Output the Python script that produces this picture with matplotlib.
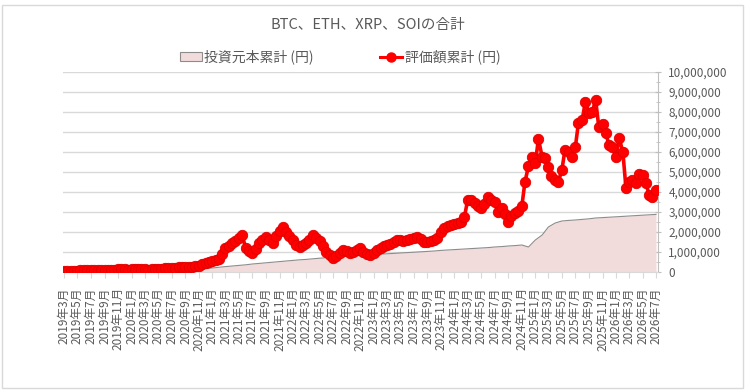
import numpy as np
import pandas as pd
import matplotlib
matplotlib.use("Agg")
import matplotlib.pyplot as plt
import matplotlib.dates as mdates
from matplotlib.ticker import FuncFormatter, MultipleLocator
from matplotlib.patches import Rectangle

plt.rcParams['font.family'] = ['Noto Sans CJK JP', 'DejaVu Sans']

# タイトル・凡例
titulo = "BTC、ETH、XRP、SOIの合計"
nombre_inversion = "投資元本累計 (円)"
nombre_valor = "評価額累計 (円)"

# 評価額累計 (百万円), 半月ごと 2019-03 .. 2026-07
valor_m = [
    0.03, 0.04, 0.05, 0.06, 0.07, 0.08, 0.09, 0.09, 0.10, 0.10,
    0.10, 0.10, 0.11, 0.11, 0.12, 0.12, 0.13, 0.15, 0.13, 0.12,
    0.13, 0.14, 0.16, 0.17, 0.13, 0.12, 0.14, 0.15, 0.16, 0.17,
    0.18, 0.20, 0.22, 0.21, 0.24, 0.25, 0.25, 0.26, 0.26, 0.28,
    0.30, 0.38, 0.45, 0.50, 0.55, 0.60, 0.65, 0.90, 1.20, 1.30,
    1.45, 1.55, 1.70, 1.85, 1.20, 1.05, 0.95, 1.15, 1.45, 1.60,
    1.75, 1.60, 1.45, 1.80, 2.05, 2.25, 2.00, 1.80, 1.60, 1.35,
    1.25, 1.35, 1.45, 1.60, 1.85, 1.70, 1.55, 1.30, 1.00, 0.85,
    0.70, 0.80, 0.95, 1.10, 1.05, 0.95, 1.00, 1.10, 1.20, 1.00,
    0.90, 0.85, 0.95, 1.10, 1.20, 1.30, 1.35, 1.40, 1.50, 1.60,
    1.60, 1.55, 1.60, 1.65, 1.70, 1.75, 1.65, 1.50, 1.50, 1.55,
    1.60, 1.70, 2.00, 2.20, 2.30, 2.35, 2.40, 2.45, 2.50, 2.75,
    3.60, 3.60, 3.45, 3.30, 3.20, 3.40, 3.75, 3.60, 3.50, 3.00,
    3.20, 2.90, 2.50, 2.80, 2.95, 3.05, 3.30, 4.50, 5.30, 5.75,
    5.45, 6.65, 5.75, 5.70, 5.25, 4.80, 4.60, 4.50, 5.10, 6.10,
    6.00, 5.75, 6.25, 7.45, 7.60, 8.50, 7.95, 8.00, 8.60, 7.25,
    7.40, 6.95, 6.35, 6.25, 5.75, 6.70, 6.00, 4.20, 4.50, 4.60,
    4.45, 4.90, 4.85, 4.45, 3.85, 3.75, 4.10,
]

# 投資元本累計 (百万円), 月ごと 2019-03 .. 2026-07
inversion_m = [
    0.02, 0.025, 0.03, 0.035, 0.04, 0.045, 0.05, 0.055, 0.06, 0.065,
    0.07, 0.075, 0.08, 0.085, 0.09, 0.095, 0.10, 0.11, 0.12, 0.13,
    0.14, 0.17, 0.20, 0.24, 0.27, 0.30, 0.33, 0.36, 0.40, 0.43,
    0.46, 0.49, 0.52, 0.55, 0.58, 0.61, 0.63, 0.66, 0.69, 0.71,
    0.74, 0.76, 0.78, 0.80, 0.82, 0.84, 0.87, 0.89, 0.91, 0.93,
    0.95, 0.97, 0.99, 1.01, 1.03, 1.05, 1.08, 1.10, 1.12, 1.14,
    1.16, 1.18, 1.20, 1.22, 1.25, 1.27, 1.30, 1.32, 1.35, 1.25,
    1.60, 1.85, 2.25, 2.45, 2.55, 2.58, 2.60, 2.63, 2.66, 2.70,
    2.72, 2.74, 2.76, 2.78, 2.80, 2.82, 2.84, 2.86, 2.88,
]

fechas_valor = pd.date_range("2019-03-01", "2026-07-01", freq="SMS")
fechas_inv = pd.date_range("2019-03-01", "2026-07-01", freq="MS")

gris_texto = "#595959"
gris_linea = "#d9d9d9"

fig = plt.figure(figsize=(7.46, 3.92), dpi=100)
ax = fig.add_axes([63 / 746, 1 - 272 / 392, (658 - 63) / 746, 200 / 392])

# borde del gráfico
fig.patches.append(Rectangle((2 / 746, 4 / 392), 741 / 746, 383 / 392, transform=fig.transFigure,
                             fill=False, edgecolor=gris_linea, linewidth=1))

inv = np.array(inversion_m) * 1e6
val = np.array(valor_m) * 1e6

ax.fill_between(fechas_inv, inv, 0, color="#f2dcdb", linewidth=0, zorder=2)
ax.plot(fechas_inv, inv, color="#8c8c8c", linewidth=0.8, zorder=3)
ax.plot(fechas_valor, val, color="#ff0000", linewidth=2.6, marker="o", markersize=7.5,
        markeredgecolor="#e00000", markeredgewidth=0.6, zorder=4)

ax.set_xlim(pd.Timestamp("2019-02-25"), pd.Timestamp("2026-07-10"))
ax.set_ylim(0, 10_000_000)

ax.yaxis.tick_right()
ax.yaxis.set_major_locator(MultipleLocator(1_000_000))
ax.yaxis.set_minor_locator(MultipleLocator(500_000))
ax.yaxis.set_major_formatter(FuncFormatter(lambda v, p: f"{v:,.0f}"))
ax.grid(axis="y", which="major", color=gris_linea, linewidth=1, zorder=0)
ax.set_axisbelow(True)

ax.xaxis.set_major_locator(mdates.MonthLocator(bymonth=[1, 3, 5, 7, 9, 11]))
ax.xaxis.set_major_formatter(FuncFormatter(
    lambda v, p: f"{mdates.num2date(v).year}年{mdates.num2date(v).month}月"))

for lado in ["left", "top"]:
    ax.spines[lado].set_visible(False)
ax.spines["right"].set_color("#bfbfbf")
ax.spines["bottom"].set_color(gris_linea)

ax.tick_params(axis="y", which="major", direction="inout", length=5, color="#bfbfbf",
               labelsize=8.5, labelcolor=gris_texto, pad=5)
ax.tick_params(axis="y", which="minor", direction="inout", length=3, color="#bfbfbf")
ax.tick_params(axis="x", which="major", direction="out", length=4, color=gris_linea,
               labelsize=8.5, labelcolor=gris_texto, labelrotation=90, pad=7)

fig.text(368 / 746, 1 - 25 / 392, titulo, ha="center", va="center", fontsize=10.5, color=gris_texto)

h1 = plt.Rectangle((0, 0), 1, 1, facecolor="#f2dcdb", edgecolor="#8c8c8c", linewidth=0.8)
h2, = ax.plot([], [], color="#ff0000", linewidth=2.2, marker="o", markersize=6.5)
fig.legend([h1, h2], [nombre_inversion, nombre_valor], loc="center", ncol=2,
           bbox_to_anchor=(340 / 746, 1 - 57 / 392), frameon=False, fontsize=10,
           labelcolor=gris_texto, columnspacing=4.8, handlelength=1.6, handletextpad=0.15,
           handleheight=0.6)

fig.savefig("out.png", dpi=100)
